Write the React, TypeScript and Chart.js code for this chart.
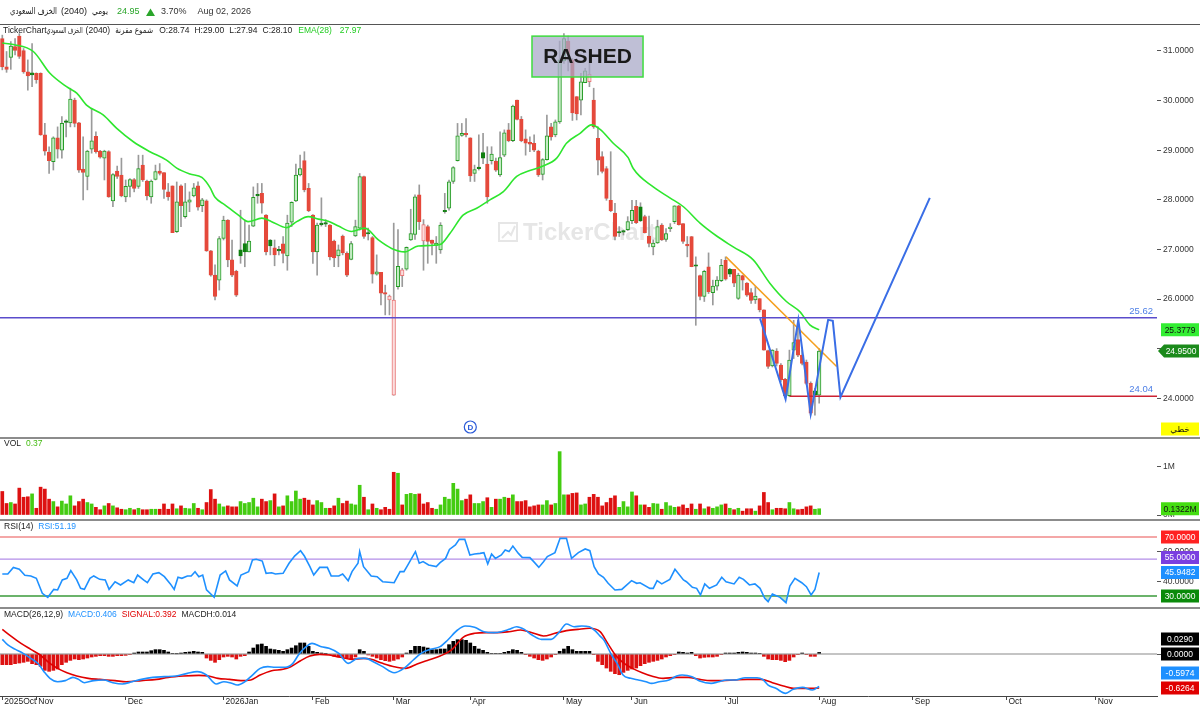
import React, { useEffect, useRef } from "react";
import { Chart, registerables } from "chart.js";

Chart.register(...registerables);

const FONT = '"Liberation Sans", "DejaVu Sans", Arial, sans-serif';

// ---------- price candles (daily) ----------
const OPEN = [
  31.25, 30.68, 30.87, 31.09, 31.3, 31.01, 30.58, 30.56, 30.55, 30.55,
  29.31, 28.96, 28.77, 29.25, 29.0, 29.58, 29.55, 30.01, 29.55, 28.62,
  28.47, 29.02, 29.28, 28.98, 28.84, 28.97, 27.98, 28.58, 28.5, 28.06,
  28.27, 28.41, 28.27, 28.7, 28.38, 28.06, 28.41, 28.58, 28.55, 28.16,
  28.28, 27.36, 28.28, 27.66, 27.95, 28.08, 28.28, 27.88, 27.98, 26.97,
  26.48, 26.38, 27.22, 27.59, 26.79, 26.56, 26.99, 27.12, 26.95, 27.47,
  28.11, 28.13, 27.69, 27.19, 27.03, 26.99, 27.11, 26.87, 27.55, 27.98,
  28.5, 28.79, 28.23, 27.69, 26.95, 27.52, 27.53, 27.49, 27.17, 26.87,
  27.27, 26.92, 26.8, 27.27, 27.43, 28.47, 27.34, 27.24, 26.5, 26.54,
  26.13, 25.98, 24.06, 26.25, 26.47, 26.6, 27.19, 27.3, 28.1, 27.17,
  27.46, 27.19, 27.08, 26.99, 27.78, 27.83, 28.37, 28.79, 29.3, 29.34,
  29.25, 28.53, 28.65, 28.95, 28.72, 28.79, 28.78, 28.5, 28.9, 29.41,
  29.19, 30.01, 29.62, 29.23, 29.16, 29.14, 28.98, 28.51, 28.81, 29.47,
  29.31, 29.57, 30.8, 31.2, 30.82, 30.08, 30.01, 30.36, 30.38, 30.01,
  29.24, 28.87, 28.63, 27.99, 27.73, 27.35, 27.37, 27.4, 27.58, 27.87,
  27.86, 27.66, 27.27, 27.05, 27.13, 27.49, 27.2, 27.42, 27.56, 27.88,
  27.52, 27.1, 27.26, 26.67, 26.47, 26.05, 26.65, 26.13, 26.26, 26.37,
  26.78, 26.6, 26.6, 26.01, 26.47, 26.32, 26.13, 25.98, 26.01, 25.78,
  24.96, 24.65, 24.95, 24.67, 24.38, 24.05, 24.97, 25.18, 24.87, 24.73,
  24.3, 24.15, 24.06,
];
const HIGH = [
  31.32, 30.99, 31.19, 31.25, 31.35, 31.05, 30.82, 31.15, 30.56, 30.56,
  29.54, 29.07, 29.27, 29.47, 29.68, 29.61, 30.25, 30.05, 29.56, 29.27,
  29.0, 29.84, 29.37, 29.0, 29.0, 28.99, 28.53, 28.68, 28.84, 28.4,
  28.43, 28.43, 28.9, 28.9, 28.4, 28.4, 28.7, 28.73, 28.55, 28.33,
  28.28, 28.36, 28.3, 28.33, 28.16, 28.33, 28.36, 28.03, 28.0, 26.98,
  26.69, 27.26, 27.67, 27.6, 27.19, 26.58, 27.79, 27.59, 27.49, 28.26,
  28.33, 28.33, 27.7, 27.2, 27.19, 27.06, 27.26, 27.69, 27.96, 28.72,
  28.9, 28.97, 28.33, 27.7, 27.53, 28.04, 27.6, 27.5, 27.19, 27.09,
  27.29, 26.95, 27.16, 27.59, 28.53, 28.48, 27.43, 27.26, 26.89, 26.54,
  26.28, 26.08, 27.53, 27.4, 26.62, 27.05, 27.81, 28.1, 28.3, 27.6,
  27.49, 27.19, 27.26, 27.54, 28.13, 28.4, 28.67, 29.54, 29.54, 29.64,
  29.25, 28.7, 29.31, 29.34, 29.07, 29.07, 28.84, 29.37, 29.41, 29.54,
  29.91, 30.01, 29.68, 29.41, 29.27, 29.31, 29.0, 28.83, 29.71, 29.54,
  29.61, 31.2, 31.35, 31.3, 30.85, 30.08, 30.55, 30.65, 30.75, 30.25,
  29.47, 28.97, 28.67, 28.97, 27.93, 27.46, 27.39, 27.66, 27.99, 27.99,
  27.94, 27.69, 27.67, 27.19, 27.59, 27.52, 27.42, 27.52, 27.88, 27.89,
  27.52, 27.26, 27.26, 26.85, 26.48, 26.58, 26.93, 26.38, 26.45, 26.8,
  26.85, 26.62, 26.6, 26.52, 26.48, 26.33, 26.21, 26.25, 26.01, 25.78,
  24.97, 24.98, 25.0, 24.7, 24.4, 24.97, 25.57, 25.57, 24.97, 24.77,
  24.33, 24.2, 25.0,
];
const LOW = [
  30.62, 30.57, 30.63, 30.92, 30.85, 30.55, 30.21, 30.28, 30.35, 29.3,
  28.9, 28.53, 28.6, 28.84, 28.84, 29.27, 29.47, 29.47, 28.55, 28.0,
  28.2, 28.94, 28.94, 28.84, 28.4, 28.05, 27.86, 28.43, 28.06, 27.96,
  28.06, 28.16, 28.23, 28.37, 28.0, 27.93, 28.4, 28.5, 28.03, 27.99,
  27.34, 27.34, 27.46, 27.63, 27.76, 28.06, 27.79, 27.76, 26.96, 26.46,
  25.98, 26.18, 27.19, 26.65, 26.45, 26.05, 26.72, 26.65, 26.95, 27.46,
  27.93, 27.73, 26.89, 26.89, 26.67, 26.89, 26.73, 26.58, 27.46, 27.96,
  28.48, 28.16, 27.76, 26.72, 26.48, 27.47, 27.46, 26.79, 26.65, 26.65,
  26.89, 26.45, 26.79, 27.26, 27.39, 27.22, 27.19, 26.32, 26.48, 25.88,
  25.68, 25.68, 24.06, 26.2, 26.25, 26.58, 27.18, 27.2, 27.4, 26.58,
  26.72, 26.89, 26.72, 26.92, 27.73, 27.79, 28.33, 28.78, 29.28, 29.27,
  28.37, 28.37, 28.6, 28.73, 27.93, 28.72, 28.57, 28.47, 28.87, 29.17,
  29.17, 29.61, 29.17, 28.9, 28.97, 28.97, 28.47, 28.4, 28.8, 29.2,
  29.27, 29.54, 30.75, 30.6, 29.6, 29.61, 29.71, 30.36, 30.28, 29.44,
  28.5, 28.54, 27.99, 27.76, 27.19, 27.26, 27.29, 27.38, 27.52, 27.52,
  27.56, 27.33, 27.05, 26.89, 27.12, 27.18, 27.16, 27.36, 27.52, 27.49,
  27.12, 26.85, 26.65, 25.47, 25.98, 25.95, 26.11, 25.88, 26.18, 26.35,
  26.38, 26.45, 26.25, 25.99, 26.18, 26.05, 25.91, 25.91, 25.74, 24.97,
  24.6, 24.63, 24.65, 24.33, 24.03, 24.03, 24.8, 24.84, 24.67, 24.27,
  23.66, 23.66, 23.9,
];
const CLOSE = [
  30.68, 30.63, 31.1, 31.01, 30.89, 30.58, 30.5, 30.52, 30.42, 29.31,
  28.98, 28.79, 29.25, 29.02, 29.54, 29.56, 30.03, 29.54, 28.6, 28.55,
  28.98, 29.19, 28.97, 28.86, 28.98, 28.06, 28.51, 28.47, 28.08, 28.27,
  28.41, 28.23, 28.63, 28.4, 28.08, 28.38, 28.57, 28.53, 28.21, 28.06,
  27.34, 27.96, 27.88, 27.96, 28.0, 28.24, 27.85, 28.0, 26.97, 26.48,
  26.05, 27.22, 27.59, 26.79, 26.48, 26.08, 26.87, 26.95, 27.17, 28.05,
  28.08, 27.93, 26.95, 27.07, 26.89, 26.97, 26.92, 27.53, 27.95, 28.5,
  28.63, 28.2, 27.78, 26.95, 27.49, 27.5, 27.51, 26.85, 26.83, 26.99,
  26.93, 26.48, 27.12, 27.46, 28.47, 27.26, 27.31, 26.5, 26.55, 26.12,
  26.1, 26.06, 25.98, 26.66, 26.59, 27.04, 27.32, 28.06, 27.56, 27.5,
  27.16, 27.12, 27.13, 27.49, 27.76, 28.36, 28.65, 29.29, 29.34, 29.31,
  28.48, 28.61, 28.63, 28.84, 28.06, 28.92, 28.6, 28.85, 29.35, 29.19,
  29.89, 29.62, 29.19, 29.14, 29.12, 29.0, 28.5, 28.81, 29.29, 29.27,
  29.57, 30.82, 31.25, 30.95, 29.75, 29.73, 30.38, 30.6, 30.53, 29.47,
  28.8, 28.57, 28.03, 27.78, 27.26, 27.33, 27.35, 27.56, 27.79, 27.54,
  27.58, 27.34, 27.12, 27.13, 27.46, 27.19, 27.32, 27.43, 27.88, 27.5,
  27.16, 27.07, 26.65, 26.66, 26.05, 26.56, 26.15, 26.26, 26.38, 26.68,
  26.4, 26.5, 26.32, 26.48, 26.38, 26.08, 25.97, 26.06, 25.78, 24.97,
  24.64, 24.97, 24.7, 24.37, 24.05, 24.77, 25.12, 24.87, 24.7, 24.3,
  23.7, 24.06, 24.95,
];

// ---------- volume (millions) ----------
const VOLUME = [
  0.49, 0.24, 0.26, 0.23, 0.56, 0.37, 0.38, 0.44, 0.14, 0.58,
  0.54, 0.33, 0.28, 0.17, 0.29, 0.23, 0.4, 0.19, 0.28, 0.33,
  0.26, 0.23, 0.16, 0.11, 0.19, 0.24, 0.19, 0.15, 0.12, 0.11,
  0.14, 0.11, 0.14, 0.11, 0.11, 0.12, 0.12, 0.12, 0.23, 0.12,
  0.23, 0.13, 0.19, 0.14, 0.13, 0.24, 0.14, 0.11, 0.26, 0.53,
  0.33, 0.23, 0.17, 0.19, 0.17, 0.17, 0.28, 0.24, 0.26, 0.35,
  0.17, 0.33, 0.28, 0.3, 0.44, 0.17, 0.19, 0.4, 0.28, 0.5,
  0.33, 0.35, 0.31, 0.21, 0.3, 0.26, 0.14, 0.14, 0.19, 0.35,
  0.24, 0.29, 0.23, 0.21, 0.62, 0.37, 0.11, 0.23, 0.14, 0.11,
  0.16, 0.12, 0.89, 0.87, 0.21, 0.43, 0.45, 0.43, 0.44, 0.23,
  0.26, 0.14, 0.12, 0.21, 0.37, 0.33, 0.66, 0.54, 0.3, 0.33,
  0.42, 0.24, 0.24, 0.28, 0.36, 0.16, 0.33, 0.33, 0.37, 0.35,
  0.42, 0.28, 0.28, 0.3, 0.17, 0.19, 0.21, 0.21, 0.3, 0.21,
  0.24, 1.32, 0.42, 0.42, 0.45, 0.46, 0.21, 0.23, 0.37, 0.43,
  0.37, 0.19, 0.26, 0.35, 0.4, 0.16, 0.28, 0.17, 0.48, 0.4,
  0.21, 0.21, 0.16, 0.24, 0.23, 0.12, 0.26, 0.19, 0.16, 0.17,
  0.21, 0.14, 0.23, 0.12, 0.23, 0.13, 0.17, 0.14, 0.17, 0.21,
  0.23, 0.14, 0.11, 0.14, 0.08, 0.13, 0.13, 0.08, 0.19, 0.47,
  0.26, 0.11, 0.14, 0.14, 0.13, 0.26, 0.13, 0.11, 0.12, 0.17,
  0.19, 0.12, 0.13,
];

// ---------- EMA(28) ----------
const EMA_IDX = [
  0, 2.6, 7.3, 11.2, 15.1, 17.5, 19.8, 23.7, 26.9, 30.8, 34.7, 38.6, 41, 44.1,
  46.9, 48.8, 50, 52.3, 55.5, 57.8, 61, 63.3, 66.8, 69.2, 71.9, 74.3, 76.6, 79,
  82.1, 85.2, 88.4, 91.5, 94.6, 97.8, 102.9, 105.2, 108.3, 111.5, 114.6, 117.7,
  120.9, 124, 127.1, 130.3, 132.6, 135.8, 138.5, 140.5, 143.6, 147.1, 148.3,
  153, 156.9, 160.1, 164, 167.9, 171.8, 176.5, 180.4, 184.3, 187.5, 189.8, 192,
];
const EMA_VAL = [
  31.16, 31.13, 30.99, 30.55, 30.28, 30.15, 29.91, 29.71, 29.44, 29.17, 28.97,
  28.8, 28.64, 28.52, 28.45, 28.25, 28.05, 27.9, 27.69, 27.56, 27.63, 27.56,
  27.44, 27.56, 27.66, 27.61, 27.57, 27.47, 27.36, 27.43, 27.19, 27.02, 26.95,
  27.07, 27.1, 27.32, 27.69, 27.83, 28.0, 28.16, 28.47, 28.59, 28.68, 28.84,
  29.14, 29.34, 29.51, 29.42, 29.14, 28.85, 28.63, 28.26, 28.04, 27.86, 27.53,
  27.27, 27.05, 26.79, 26.32, 25.95, 25.74, 25.48, 25.3779,
];

// ---------- RSI(14) ----------
const RSI_IDX = [
  0, 1.3, 2.6, 4, 5.3, 6.7, 8, 9.4, 10.7, 12.1, 13, 14.1, 15.2, 16.1, 17.5,
  18.4, 19.3, 20.6, 21.5, 22.9, 24.2, 25.1, 26.5, 27.8, 29.6, 30.9, 31.8, 33.2,
  34.1, 35.4, 36.8, 38.1, 39.5, 40.4, 41.3, 42.2, 43.5, 44.4, 45.3, 46.2, 47.1,
  48, 49.8, 51.2, 52.5, 53.4, 55.2, 56.1, 57.9, 58.8, 59.7, 61.1, 62, 63.3,
  64.2, 66, 67.4, 68.7, 70.1, 71, 72.3, 73.2, 74.6, 76.4, 77.3, 79.1, 80, 81.3,
  82.2, 83.6, 84, 84.9, 86.7, 88.1, 89.4, 92.1, 93.5, 94.4, 95.3, 97.1, 98,
  98.9, 100.2, 102, 102.9, 104.2, 105.1, 106.5, 107.4, 108.7, 109.9, 111,
  112.3, 113.2, 114.1, 115, 115.9, 117.3, 118.2, 119.1, 120, 121.3, 122.2, 124,
  124.9, 126.1, 127.2, 128.1, 129.9, 131.1, 132.6, 133.8, 135.4, 137, 138.1,
  139.1, 140.1, 141.3, 142.4, 144, 145.6, 147.9, 149.1, 149.9, 152.2, 153,
  153.9, 155, 156.9, 158.1, 160.1, 160.8, 162.2, 163.2, 164.1, 165.1, 166.2,
  167.9, 169.1, 170.1, 172, 173.2, 174.2, 175.6, 176.9, 178.1, 179.2, 180, 181,
  182.8, 184.2, 185.1, 186.3, 187.9, 189, 190.1, 191, 192,
];
const RSI_VAL = [
  44.9, 44.9, 49.4, 48.1, 44, 43.6, 42, 31.8, 29.1, 34.5, 34.1, 40.9, 42, 47.2,
  40.9, 35.2, 34.5, 42, 43.6, 41.3, 40.9, 34.5, 39.7, 37.5, 40.9, 39, 44.2, 40.9,
  39, 44.9, 45.8, 43.1, 38.2, 34.5, 42.7, 42, 43.6, 43.6, 46.5, 43.1, 44.2,
  34.1, 29.1, 44.2, 47, 40.9, 36.8, 44.2, 46.5, 54.4, 54.9, 53.7, 45.4, 45.8,
  44.9, 45.4, 52.2, 57.1, 60.7, 57.1, 49.9, 44.2, 49.4, 49.4, 43.6, 43.6, 44.9,
  40.4, 46.5, 52.2, 60.1, 49.9, 43.6, 43.1, 39.7, 39, 46.5, 46.5, 51, 60.1,
  52.2, 53.3, 51, 49.9, 52.6, 55.5, 61.6, 64.6, 68.4, 68.4, 57.8, 58.5, 58.9,
  59.4, 51.7, 58.5, 55.5, 57.8, 61.2, 60.1, 63.9, 58.9, 56.2, 56, 53.3, 49.4,
  53.3, 56.7, 59.4, 69.1, 69.1, 55.5, 59.4, 61.9, 60.7, 49.9, 44.9, 42.7, 38.6,
  34.1, 34.5, 40.4, 38.6, 39, 35.2, 35.2, 40.4, 38.2, 41.3, 48.1, 40.9, 39.7,
  35.9, 35.2, 30.7, 38.2, 35.2, 37.5, 42.7, 39.7, 38.2, 42.7, 41.3, 37.5, 38.2,
  35.2, 28.4, 26.2, 31.4, 29.1, 25.5, 36.8, 42, 39, 36.3, 30.7, 34.5, 45.9482,
];

// ---------- MACD(26,12,9) ----------
const MACD_IDX = [
  0, 1.3, 3.1, 4.9, 6.7, 8.5, 9.8, 11.2, 13, 14.8, 16.6, 17.9, 19.3, 21.5, 23.8,
  26, 28.2, 30.5, 32.7, 35.4, 38.1, 40.8, 43.5, 45.8, 48, 50.3, 52.1, 53.9, 55.2,
  57, 58.8, 60.6, 62.4, 64.2, 66.5, 68.3, 69.6, 71.4, 72.8, 75, 76.8, 79.1,
  81.3, 83.6, 85.4, 87.2, 89.4, 92.1, 94.4, 96.6, 98.4, 100.6, 102.9, 104.7,
  107, 108.8, 111, 113.2, 115.5, 117.3, 119.1, 120.9, 122.7, 124.5, 126.7, 129,
  130.8, 132.6, 134.4, 136.2, 138, 139.3, 140.5, 141.4, 143.2, 144.5, 145.9,
  147.7, 149.5, 151.3, 152.6, 154.4, 156.7, 158.5, 159.8, 162.1, 163.9, 166.6,
  168.4, 170.2, 172.4, 174.6, 177.4, 178.7, 180, 181.8, 184.1, 185.9, 188.1,
  190.4, 192,
];
const MACD_VAL = [
  0.27, 0.166, 0.086, 0.012, -0.08, -0.184, -0.325, -0.448, -0.51, -0.49, -0.43,
  -0.467, -0.528, -0.49, -0.479, -0.528, -0.552, -0.51, -0.467, -0.43, -0.417,
  -0.405, -0.356, -0.325, -0.387, -0.552, -0.51, -0.54, -0.571, -0.51, -0.387,
  -0.264, -0.233, -0.245, -0.245, -0.172, -0.018, 0.135, 0.196, 0.135, 0.105,
  0.012, -0.172, -0.08, -0.08, -0.141, -0.233, -0.344, -0.264, -0.11, 0.012,
  0.086, 0.135, 0.258, 0.442, 0.516, 0.491, 0.411, 0.393, 0.411, 0.454, 0.503,
  0.454, 0.35, 0.27, 0.27, 0.393, 0.552, 0.503, 0.516, 0.503, 0.43, 0.33,
  0.258, -0.018, -0.172, -0.387, -0.448, -0.479, -0.51, -0.54, -0.51, -0.479,
  -0.405, -0.387, -0.417, -0.497, -0.54, -0.51, -0.479, -0.479, -0.436, -0.436,
  -0.467, -0.571, -0.632, -0.724, -0.65, -0.614, -0.663, -0.5974,
];
const SIGNAL_IDX = [
  0, 2.2, 4.4, 6.7, 8.9, 11.2, 13, 15.2, 17.5, 20.2, 22.9, 26.5, 29.1, 32.7,
  36.3, 39, 42.6, 46.2, 48.5, 50.7, 53.4, 56.1, 58.4, 60.6, 63.3, 66, 67.8, 70.1,
  72.3, 74.6, 76.8, 79.5, 82.2, 84.9, 86.7, 89.4, 92.1, 94.8, 97.5, 100.2, 102.9,
  105.6, 108.3, 111, 113.7, 116.4, 119.1, 121.8, 124.5, 127.2, 129.9, 132.6,
  135.3, 138, 140.5, 142.3, 144.1, 145.9, 148.1, 150.4, 152.6, 155.3, 158.5,
  161.2, 163.9, 166.6, 169.3, 172, 175.1, 178.3, 181, 183.6, 185.9, 188.1, 190.4,
  192,
];
const SIGNAL_VAL = [
  0.454, 0.32, 0.196, 0.086, -0.018, -0.172, -0.264, -0.344, -0.405, -0.448,
  -0.467, -0.49, -0.51, -0.49, -0.467, -0.43, -0.405, -0.393, -0.405, -0.448,
  -0.467, -0.49, -0.479, -0.387, -0.307, -0.282, -0.233, -0.123, -0.037, -0.006,
  -0.018, -0.061, -0.098, -0.08, -0.098, -0.172, -0.233, -0.264, -0.184, -0.11,
  -0.037, 0.074, 0.307, 0.381, 0.393, 0.393, 0.411, 0.442, 0.393, 0.332, 0.381,
  0.43, 0.454, 0.473, 0.411, 0.196, -0.018, -0.16, -0.264, -0.344, -0.405,
  -0.448, -0.43, -0.43, -0.467, -0.49, -0.49, -0.479, -0.467, -0.467, -0.528,
  -0.59, -0.632, -0.632, -0.632, -0.6264,
];
const MACD_HIST = [
  -0.196, -0.196, -0.196, -0.178, -0.166, -0.153, -0.135, -0.178, -0.196, -0.227,
  -0.301, -0.319, -0.301, -0.276, -0.196, -0.153, -0.117, -0.092, -0.104, -0.092,
  -0.074, -0.055, -0.043, -0.031, -0.031, -0.043, -0.043, -0.031, -0.031, -0.025,
  -0.012, 0.018, 0.037, 0.037, 0.037, 0.061, 0.08, 0.08, 0.068, 0.037,
  0.006, 0.004, 0.018, 0.031, 0.037, 0.049, 0.037, 0.031, -0.074, -0.117,
  -0.153, -0.104, -0.055, -0.043, -0.055, -0.092, -0.043, -0.031, 0.037, 0.11,
  0.172, 0.184, 0.141, 0.092, 0.08, 0.068, 0.049, 0.08, 0.11, 0.153,
  0.203, 0.203, 0.141, 0.049, 0.031, 0.018, 0.006, -0.012, -0.043, -0.055,
  -0.055, -0.074, -0.092, -0.055, 0.08, 0.049, -0.018, -0.043, -0.074, -0.104,
  -0.123, -0.135, -0.117, -0.092, -0.055, 0.018, 0.068, 0.141, 0.141, 0.129,
  0.11, 0.08, 0.08, 0.092, 0.092, 0.172, 0.233, 0.264, 0.264, 0.252,
  0.203, 0.141, 0.092, 0.068, 0.031, 0.006, 0.006, 0.006, 0.031, 0.049,
  0.08, 0.068, 0.031, -0.012, -0.043, -0.074, -0.104, -0.117, -0.092, -0.055,
  -0.012, 0.049, 0.092, 0.141, 0.08, 0.049, 0.049, 0.049, 0.049, -0.012,
  -0.135, -0.196, -0.258, -0.319, -0.362, -0.381, -0.338, -0.301, -0.276, -0.258,
  -0.215, -0.178, -0.153, -0.135, -0.117, -0.092, -0.055, -0.031, -0.012, 0.037,
  0.031, 0.018, 0.031, -0.031, -0.074, -0.061, -0.055, -0.055, -0.043, -0.012,
  0.018, 0.018, 0.018, 0.031, 0.037, 0.031, 0.018, 0.018, 0.006, -0.043,
  -0.092, -0.104, -0.104, -0.117, -0.141, -0.117, -0.055, -0.012, 0.018, -0.012,
  -0.043, -0.043, 0.029,
];

// ---------- axis ----------
const MONTH_TICKS = [0, 8, 29, 52, 73, 92, 110, 132, 148, 170, 192, 214, 236, 257];
const MONTH_LABELS = ["2025Oct", "Nov", "Dec", "2026Jan", "Feb", "Mar", "Apr", "May", "Jun", "Jul", "Aug", "Sep", "Oct", "Nov"];
const X_MIN = -0.54;
const X_MAX = 271.4;
const PRICE_TICKS = [24, 25, 26, 27, 28, 29, 30, 31];
const VOL_TICKS = [0, 1];
const RSI_TICKS = [40, 60];
const MACD_TICKS = [0];
const RSI_LEVELS = [70, 55, 30];

// ---------- drawings ----------
const RESISTANCE = 25.62;
const SUPPORT = 24.04;
const SUPPORT_FROM = 185.1;
const TREND_IDX = [170.1, 196.1];
const TREND_VAL = [26.85, 24.64];
const ZIG_IDX = [178.1, 184.1, 187.1, 190.0, 194.1, 195.2, 197.0, 218.0];
const ZIG_VAL = [25.61, 23.98, 25.58, 23.68, 25.58, 25.56, 24.02, 28.04];
const NOTE_IDX = [124.5, 150.6];
const NOTE_VAL = [31.3, 30.476];
const DIV_MARK_IDX = 110;

const LAST_EMA = 25.3779;
const LAST_VOL = 0.1322;
const LAST_RSI = 45.9482;
const LAST_MACD = -0.5974;
const LAST_SIGNAL = -0.6264;

const RED = "#e5493b";
const VOL_GREEN = "#44cc11";
const VOL_RED = "#dd1111";

function labelBox(ctx: CanvasRenderingContext2D, x: number, y: number, bg: string, fg: string, text: string, arrow = false) {
  const w = 38, h = 13;
  ctx.fillStyle = bg;
  ctx.beginPath();
  if (arrow) {
    ctx.moveTo(x - 3, y);
    ctx.lineTo(x + 3, y - h / 2);
    ctx.lineTo(x + w, y - h / 2);
    ctx.lineTo(x + w, y + h / 2);
    ctx.lineTo(x + 3, y + h / 2);
    ctx.closePath();
  } else {
    ctx.rect(x, y - h / 2, w, h);
  }
  ctx.fill();
  ctx.fillStyle = fg;
  ctx.font = `8.5px ${FONT}`;
  ctx.textAlign = "center";
  ctx.textBaseline = "middle";
  ctx.fillText(text, x + w / 2 + (arrow ? 1 : 0), y + 0.5);
}

function placeBoxes(items: { y: number }[]) {
  const sorted = [...items].sort((a, b) => b.y - a.y);
  let prev = Infinity;
  for (const it of sorted) {
    if (it.y > prev - 15) it.y = prev - 15;
    prev = it.y;
  }
}

type Part = [string, string, number, number?];
// draws text pieces one after the other (optional max width per piece); returns the end x
function drawRun(ctx: CanvasRenderingContext2D, x: number, y: number, parts: Part[]) {
  ctx.textAlign = "left";
  ctx.direction = "ltr";
  let cx = x;
  for (const [t, color, gap, maxW] of parts) {
    cx += gap;
    ctx.fillStyle = color;
    const w = ctx.measureText(t).width;
    if (maxW && w > maxW) {
      ctx.fillText(t, cx, y, maxW);
      cx += maxW;
    } else {
      ctx.fillText(t, cx, y);
      cx += w;
    }
  }
  return cx;
}

const overlay = {
  id: "overlay",
  beforeDatasetsDraw(chart: any) {
    const { ctx, chartArea } = chart;
    const ym = chart.scales.yMain;
    const cx = (chartArea.left + chartArea.right) / 2;
    const cy = (ym.top + ym.bottom) / 2;
    ctx.save();
    ctx.font = `bold 24px ${FONT}`;
    const t = "TickerChart";
    const w = ctx.measureText(t).width;
    const x0 = cx - (w + 26) / 2;
    ctx.strokeStyle = "#e6e6e6";
    ctx.fillStyle = "#e6e6e6";
    ctx.lineWidth = 2;
    ctx.strokeRect(x0, cy - 9, 18, 18);
    ctx.beginPath();
    ctx.moveTo(x0 + 3, cy + 6);
    ctx.lineTo(x0 + 9, cy);
    ctx.lineTo(x0 + 12, cy + 3);
    ctx.lineTo(x0 + 16, cy - 6);
    ctx.stroke();
    ctx.textAlign = "left";
    ctx.textBaseline = "middle";
    ctx.fillText(t, x0 + 24, cy + 1);
    ctx.restore();
  },
  afterDatasetsDraw(chart: any) {
    const { ctx } = chart;
    const x = chart.scales.x;
    const ym = chart.scales.yMain;
    ctx.save();
    const bx0 = x.getPixelForValue(NOTE_IDX[0]);
    const bx1 = x.getPixelForValue(NOTE_IDX[1]);
    const by0 = ym.getPixelForValue(NOTE_VAL[0]);
    const by1 = ym.getPixelForValue(NOTE_VAL[1]);
    ctx.fillStyle = "rgba(170,170,200,0.75)";
    ctx.fillRect(bx0, by0, bx1 - bx0, by1 - by0);
    ctx.strokeStyle = "#3fdc3f";
    ctx.lineWidth = 1.5;
    ctx.strokeRect(bx0, by0, bx1 - bx0, by1 - by0);
    ctx.fillStyle = "#1a1a1a";
    ctx.font = `bold 21px ${FONT}`;
    ctx.textAlign = "center";
    ctx.textBaseline = "middle";
    ctx.fillText("RASHED", (bx0 + bx1) / 2, (by0 + by1) / 2 + 1);
    const dx = x.getPixelForValue(DIV_MARK_IDX);
    const dy = ym.bottom - 11;
    ctx.strokeStyle = "#2a5ad8";
    ctx.lineWidth = 1.2;
    ctx.beginPath();
    ctx.arc(dx, dy, 6, 0, Math.PI * 2);
    ctx.fillStyle = "#fff";
    ctx.fill();
    ctx.stroke();
    ctx.fillStyle = "#2a5ad8";
    ctx.font = `bold 8px ${FONT}`;
    ctx.fillText("D", dx, dy + 0.5);
    ctx.restore();
  },
  afterDraw(chart: any) {
    const { ctx, chartArea, width } = chart;
    const ym = chart.scales.yMain;
    const yv = chart.scales.yVol;
    const yr = chart.scales.yRsi;
    const yd = chart.scales.yMacd;
    const R = chartArea.right;
    ctx.save();
    // header
    ctx.textBaseline = "middle";
    ctx.font = `9px ${FONT}`;
    drawRun(ctx, 10, 12, [["الخزف السعودي", "#222", 0, 47], ["(2040)", "#222", 4]]);
    drawRun(ctx, 92, 12, [["يومي", "#222", 0, 16]]);
    drawRun(ctx, 117, 12, [[CLOSE[CLOSE.length - 1].toFixed(2), "#2aa52a", 0]]);
    ctx.fillStyle = "#2aa52a";
    ctx.beginPath();
    ctx.moveTo(146, 16);
    ctx.lineTo(155, 16);
    ctx.lineTo(150.5, 8.5);
    ctx.closePath();
    ctx.fill();
    drawRun(ctx, 161, 12, [["3.70%", "#333", 0], ["Aug 02, 2026", "#333", 11]]);
    ctx.strokeStyle = "#555";
    ctx.lineWidth = 1;
    ctx.beginPath();
    ctx.moveTo(0, 24.5);
    ctx.lineTo(width, 24.5);
    ctx.stroke();

    // panel separators
    ctx.strokeStyle = "#8c8c8c";
    ctx.lineWidth = 2;
    for (const s of [yv, yr, yd]) {
      ctx.beginPath();
      ctx.moveTo(0, s.top);
      ctx.lineTo(width, s.top);
      ctx.stroke();
    }

    // legends
    ctx.font = `8.5px ${FONT}`;
    const ly = ym.top + 5;
    const legEnd = drawRun(ctx, 3, ly, [
      ["TickerChart", "#222", 0],
      ["الخزف السعودي", "#222", 0, 36],
      ["(2040)", "#222", 3],
      ["شموع مقرنة", "#222", 5, 38],
    ]);
    drawRun(ctx, Math.max(157, legEnd + 6), ly, [
      ["O:28.74", "#222", 0],
      ["H:29.00", "#222", 5],
      ["L:27.94", "#222", 5],
      ["C:28.10", "#222", 5],
      ["EMA(28)", "#22cc22", 6],
      ["27.97", "#22cc22", 8],
    ]);
    drawRun(ctx, 4, yv.top + 6, [["VOL", "#222", 0], ["0.37", "#44bb11", 5]]);
    drawRun(ctx, 4, yr.top + 7, [["RSI(14)", "#222", 0], ["RSI:51.19", "#1e90ff", 5]]);
    drawRun(ctx, 4, yd.top + 7, [
      ["MACD(26,12,9)", "#222", 0],
      ["MACD:0.406", "#1e90ff", 5],
      ["SIGNAL:0.392", "#e00000", 5],
      ["MACDH:0.014", "#222", 5],
    ]);

    // level labels
    ctx.fillStyle = "#4d7fe6";
    ctx.font = `9.5px ${FONT}`;
    ctx.textAlign = "right";
    ctx.textBaseline = "bottom";
    ctx.fillText(RESISTANCE.toFixed(2), R - 4, ym.getPixelForValue(RESISTANCE) - 2);
    ctx.fillText(SUPPORT.toFixed(2), R - 4, ym.getPixelForValue(SUPPORT) - 2);

    // right value boxes
    const bx = R + 4;
    labelBox(ctx, bx, ym.getPixelForValue(LAST_EMA), "#33ee33", "#111", LAST_EMA.toFixed(4));
    const lastC = CLOSE[CLOSE.length - 1];
    labelBox(ctx, bx, ym.getPixelForValue(lastC), "#1b8a1b", "#fff", lastC.toFixed(4), true);
    labelBox(ctx, bx, ym.bottom - 9, "#ffff00", "#111", "خطي");

    labelBox(ctx, bx, yv.getPixelForValue(LAST_VOL), "#44dd11", "#111", LAST_VOL.toFixed(4) + "M");

    const rsiItems = [
      { y: yr.getPixelForValue(30), bg: "#0a8a0a", t: "30.0000" },
      { y: yr.getPixelForValue(LAST_RSI), bg: "#1e90ff", t: LAST_RSI.toFixed(4) },
      { y: yr.getPixelForValue(55), bg: "#7a3fe0", t: "55.0000" },
      { y: yr.getPixelForValue(70), bg: "#ff2222", t: "70.0000" },
    ];
    placeBoxes(rsiItems);
    for (const it of rsiItems) labelBox(ctx, bx, it.y, it.bg, "#fff", it.t);

    const lastH = MACD_HIST[MACD_HIST.length - 1];
    const macdItems = [
      { y: yd.getPixelForValue(LAST_SIGNAL), bg: "#e00000", t: LAST_SIGNAL.toFixed(4) },
      { y: yd.getPixelForValue(LAST_MACD), bg: "#1e90ff", t: LAST_MACD.toFixed(4) },
      { y: yd.getPixelForValue(0), bg: "#000", t: "0.0000" },
      { y: yd.getPixelForValue(lastH), bg: "#000", t: lastH.toFixed(4) },
    ];
    placeBoxes(macdItems);
    for (const it of macdItems) labelBox(ctx, bx, it.y, it.bg, "#fff", it.t);
    ctx.restore();
  },
};

export default function App() {
  const ref = useRef<HTMLCanvasElement>(null);
  useEffect(() => {
    document.body.style.margin = "0";
    const canvas = ref.current!;
    const idx = CLOSE.map((_, i) => i);
    const up = CLOSE.map((c, i) => c >= (i ? CLOSE[i - 1] : OPEN[i]));
    const hollow = CLOSE.map((c, i) => c > OPEN[i]);
    const bodyFill = idx.map((i) => (up[i] ? (hollow[i] ? "#c4ebc4" : "#0f7f0f") : hollow[i] ? "#fcdede" : RED));
    const bodyBorder = idx.map((i) => (up[i] ? (hollow[i] ? "#259b25" : "#0f7f0f") : hollow[i] ? "#e87878" : RED));
    const volColor = up.map((u) => (u ? VOL_GREEN : VOL_RED));
    const histColor = MACD_HIST.map((v) => (v >= 0 ? "#000" : "#dd1111"));
    const pts = (xs: number[], ys: number[]) => xs.map((x, k) => ({ x, y: ys[k] }));
    const hline = (v: number, from = X_MIN) => [{ x: from, y: v }, { x: X_MAX, y: v }];
    const lineBase = { type: "line" as const, pointRadius: 0, tension: 0, xAxisID: "x" };
    const tickFont = { family: FONT, size: 8.5 };

    const yCommon = (weight: number, min: number, max: number, ticks: number[], fmt: (v: number) => string) => ({
      type: "linear" as const,
      position: "right" as const,
      stack: "panels",
      stackWeight: weight,
      min,
      max,
      afterBuildTicks: (s: any) => {
        s.ticks = ticks.map((v) => ({ value: v }));
      },
      afterFit: (s: any) => {
        s.width = 43;
      },
      border: { display: false },
      grid: { drawOnChartArea: false, drawTicks: true, tickLength: 4, color: "#555", offset: false },
      ticks: { font: tickFont, color: "#333", padding: 2, callback: (v: any) => fmt(Number(v)) },
    });

    const chart = new Chart(canvas, {
      type: "bar",
      data: {
        datasets: [
          {
            type: "bar",
            data: idx.map((i) => ({ x: i, y: [LOW[i], HIGH[i]] })) as any,
            backgroundColor: "#9a9a9a",
            barThickness: 1,
            grouped: false,
            xAxisID: "x",
            yAxisID: "yMain",
            order: 6,
          },
          {
            type: "bar",
            data: idx.map((i) => ({ x: i, y: [Math.min(OPEN[i], CLOSE[i]), Math.max(OPEN[i], CLOSE[i])] })) as any,
            backgroundColor: bodyFill,
            borderColor: bodyBorder,
            borderWidth: 1,
            borderSkipped: false,
            minBarLength: 1.5,
            barThickness: 3.6,
            grouped: false,
            xAxisID: "x",
            yAxisID: "yMain",
            order: 5,
          },
          { ...lineBase, data: pts(EMA_IDX, EMA_VAL), borderColor: "#2ee62e", borderWidth: 1.6, cubicInterpolationMode: "monotone", yAxisID: "yMain", order: 4 },
          { ...lineBase, data: hline(RESISTANCE), borderColor: "#5a4ccc", borderWidth: 1.5, yAxisID: "yMain", order: 3 },
          { ...lineBase, data: hline(SUPPORT, SUPPORT_FROM), borderColor: "#cc2233", borderWidth: 1.5, yAxisID: "yMain", order: 3 },
          { ...lineBase, data: pts(TREND_IDX, TREND_VAL), borderColor: "#f5a020", borderWidth: 1.5, yAxisID: "yMain", order: 2 },
          { ...lineBase, data: pts(ZIG_IDX, ZIG_VAL), borderColor: "#3a6ee6", borderWidth: 2, yAxisID: "yMain", order: 1 },
          {
            type: "bar",
            data: idx.map((i) => ({ x: i, y: VOLUME[i] })) as any,
            backgroundColor: volColor,
            barThickness: 3,
            grouped: false,
            xAxisID: "x",
            yAxisID: "yVol",
          },
          ...RSI_LEVELS.map((lv, k) => ({
            ...lineBase,
            data: hline(lv),
            borderColor: ["#f08a8a", "#b38ee8", "#3a9a3a"][k],
            borderWidth: 1.4,
            yAxisID: "yRsi",
            order: 3,
          })),
          {
            ...lineBase,
            data: pts(RSI_IDX, RSI_VAL),
            borderColor: "#1e90ff",
            borderWidth: 1.6,
            yAxisID: "yRsi",
            fill: { value: 30, above: "rgba(0,0,0,0)", below: "rgba(140,210,140,0.55)" },
            order: 1,
          },
          {
            type: "bar",
            data: idx.map((i) => ({ x: i, y: MACD_HIST[i] })) as any,
            backgroundColor: histColor,
            barThickness: 3,
            grouped: false,
            xAxisID: "x",
            yAxisID: "yMacd",
            order: 4,
          },
          { ...lineBase, data: hline(0), borderColor: "#8a8a8a", borderWidth: 1.2, yAxisID: "yMacd", order: 3 },
          { ...lineBase, data: pts(MACD_IDX, MACD_VAL), borderColor: "#1e90ff", borderWidth: 1.6, cubicInterpolationMode: "monotone", yAxisID: "yMacd", order: 1 },
          { ...lineBase, data: pts(SIGNAL_IDX, SIGNAL_VAL), borderColor: "#e00000", borderWidth: 1.6, cubicInterpolationMode: "monotone", yAxisID: "yMacd", order: 2 },
        ] as any,
      },
      options: {
        animation: false,
        responsive: false,
        events: [],
        layout: { padding: { top: 26, left: 0, right: 0, bottom: 0 } },
        plugins: { legend: { display: false }, tooltip: { enabled: false } },
        scales: {
          x: {
            type: "linear",
            position: "bottom",
            min: X_MIN,
            max: X_MAX,
            offset: false,
            afterBuildTicks: (s: any) => {
              s.ticks = MONTH_TICKS.map((v) => ({ value: v }));
            },
            afterFit: (s: any) => {
              s.height = 11;
            },
            border: { display: true, color: "#444", width: 1 },
            grid: { drawOnChartArea: false, drawTicks: true, tickLength: 4, color: "#444", offset: false },
            ticks: {
              font: tickFont,
              color: "#222",
              align: "start",
              labelOffset: 2,
              padding: -3,
              maxRotation: 0,
              autoSkip: false,
              callback: (_v: any, i: number) => MONTH_LABELS[i],
            },
          },
          yMain: yCommon(412, 23.198, 31.504, PRICE_TICKS, (v) => v.toFixed(4)),
          yVol: yCommon(82, -0.104, 1.604, VOL_TICKS, (v) => v + "M"),
          yRsi: yCommon(88, 21.86, 81.53, RSI_TICKS, (v) => v.toFixed(4)),
          yMacd: yCommon(88, -0.773, 0.847, MACD_TICKS, (v) => v.toFixed(4)),
        } as any,
      },
      plugins: [overlay],
    });
    return () => chart.destroy();
  }, []);
  return (
    <div style={{ position: "fixed", left: 0, top: 0, width: 1200, height: 707, background: "#fff" }}>
      <canvas ref={ref} width={1200} height={707} style={{ display: "block", width: 1200, height: 707 }} />
    </div>
  );
}
